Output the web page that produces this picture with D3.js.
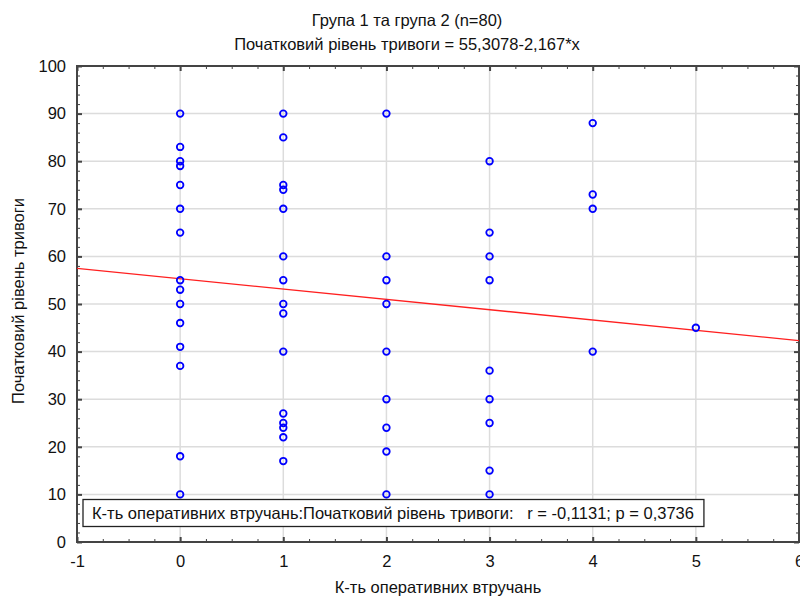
<!DOCTYPE html>
<html>
<head>
<meta charset="utf-8">
<script src="https://cdn.jsdelivr.net/npm/d3@7"></script>
<style>
  body { margin: 0; background: #fff; }
  svg { display: block; font-family: "Liberation Sans", Arial, sans-serif; }
  .tick text { font-size: 16.5px; fill: #111; }
</style>
</head>
<body>
<svg id="chart" width="800" height="599"></svg>
<script>
'use strict';

// К-ть оперативних втручань (x) and Початковий рівень тривоги (y)
var hits = [
  0, 0, 0, 0, 0, 0, 0, 0, 0, 0, 0, 0, 0, 0, 0,
  1, 1, 1, 1, 1, 1, 1, 1, 1, 1, 1, 1, 1, 1, 1,
  2, 2, 2, 2, 2, 2, 2, 2, 2,
  3, 3, 3, 3, 3, 3, 3, 3, 3,
  4, 4, 4, 4,
  5
];
var anxiety = [
  90, 83, 80, 79, 75, 70, 65, 55, 53, 50, 46, 41, 37, 18, 10,
  90, 85, 75, 74, 70, 60, 55, 50, 48, 40, 27, 25, 24, 22, 17,
  90, 60, 55, 50, 40, 30, 24, 19, 10,
  80, 65, 60, 55, 36, 30, 25, 15, 10,
  88, 73, 70, 40,
  45
];

// regression from the title
var intercept = 55.3078;
var slope = -2.167;

var xTicks = [-1, 0, 1, 2, 3, 4, 5, 6];
var yTicks = [0, 10, 20, 30, 40, 50, 60, 70, 80, 90, 100];

var titleLines = ['Група 1 та група 2 (n=80)', 'Початковий рівень тривоги = 55,3078-2,167*x'];
var xLabel = 'К-ть оперативних втручань';
var yLabel = 'Початковий рівень тривоги';
var statsText = 'К-ть оперативних втручань:Початковий рівень тривоги:   r = -0,1131; p = 0,3736';

var svg = d3.select('#chart');
var margin = { left: 77, right: 1, top: 66, bottom: 57 };
var width = 800 - margin.left - margin.right;
var height = 599 - margin.top - margin.bottom;

var x = d3.scaleLinear().domain([-1, 6]).range([margin.left, margin.left + width]);
var y = d3.scaleLinear().domain([0, 100]).range([margin.top + height, margin.top]);

var axisColor = '#444';
var gridColor = '#dcdcdc';
var fontSize = 16.5;
var plain = function (d) { return String(d); };

// grid
var grid = svg.append('g').attr('class', 'grid');
grid.selectAll('line.v')
  .data(xTicks.slice(1, -1))
  .enter().append('line')
  .attr('class', 'v')
  .attr('x1', function (d) { return x(d); })
  .attr('x2', function (d) { return x(d); })
  .attr('y1', y(0)).attr('y2', y(100))
  .attr('stroke', gridColor).attr('stroke-width', 1.5);
grid.selectAll('line.h')
  .data(yTicks.slice(1, -1))
  .enter().append('line')
  .attr('class', 'h')
  .attr('y1', function (d) { return y(d); })
  .attr('y2', function (d) { return y(d); })
  .attr('x1', x(-1)).attr('x2', x(6))
  .attr('stroke', gridColor).attr('stroke-width', 1.5);

// minor ticks, inside the frame on all four sides
var xMinor = d3.range(-1, 6.001, 0.25).filter(function (d) { return d % 1 !== 0; });
var yMinor = d3.range(0, 100.001, 2).filter(function (d) { return d % 10 !== 0; });

function styleAxis(g) {
  g.select('.domain').remove();
  g.selectAll('.tick line').attr('stroke', axisColor).attr('stroke-width', 1);
}

svg.append('g')
  .attr('transform', 'translate(0,' + y(0) + ')')
  .call(d3.axisBottom(x).tickValues(xMinor).tickSize(-3).tickFormat(''))
  .call(styleAxis);
svg.append('g')
  .attr('transform', 'translate(0,' + y(100) + ')')
  .call(d3.axisTop(x).tickValues(xMinor).tickSize(-3).tickFormat(''))
  .call(styleAxis);
svg.append('g')
  .attr('transform', 'translate(' + x(-1) + ',0)')
  .call(d3.axisLeft(y).tickValues(yMinor).tickSize(-3).tickFormat(''))
  .call(styleAxis);
svg.append('g')
  .attr('transform', 'translate(' + x(6) + ',0)')
  .call(d3.axisRight(y).tickValues(yMinor).tickSize(-3).tickFormat(''))
  .call(styleAxis);

// major ticks + labels
var xAxis = svg.append('g')
  .attr('transform', 'translate(0,' + y(0) + ')')
  .call(d3.axisBottom(x).tickValues(xTicks).tickSize(-5).tickPadding(13).tickFormat(plain))
  .call(styleAxis);
xAxis.selectAll('.tick line').attr('stroke-width', 2);

var yAxis = svg.append('g')
  .attr('transform', 'translate(' + x(-1) + ',0)')
  .call(d3.axisLeft(y).tickValues(yTicks).tickSize(-5).tickPadding(11).tickFormat(plain))
  .call(styleAxis);
yAxis.selectAll('.tick line').attr('stroke-width', 2);

svg.append('g')
  .attr('transform', 'translate(0,' + y(100) + ')')
  .call(d3.axisTop(x).tickValues(xTicks).tickSize(-5).tickFormat(''))
  .call(styleAxis)
  .selectAll('.tick line').attr('stroke-width', 2);
svg.append('g')
  .attr('transform', 'translate(' + x(6) + ',0)')
  .call(d3.axisRight(y).tickValues(yTicks).tickSize(-5).tickFormat(''))
  .call(styleAxis)
  .selectAll('.tick line').attr('stroke-width', 2);

// frame
svg.append('rect')
  .attr('x', x(-1)).attr('y', y(100))
  .attr('width', x(6) - x(-1)).attr('height', y(0) - y(100))
  .attr('fill', 'none').attr('stroke', axisColor).attr('stroke-width', 2);

// regression line
svg.append('line')
  .attr('x1', x(-1)).attr('y1', y(intercept + slope * -1))
  .attr('x2', x(6)).attr('y2', y(intercept + slope * 6))
  .attr('stroke', '#ff2020').attr('stroke-width', 1.3);

// points
svg.append('g').selectAll('circle')
  .data(hits.map(function (h, i) { return [h, anxiety[i]]; }))
  .enter().append('circle')
  .attr('cx', function (d) { return x(d[0]); })
  .attr('cy', function (d) { return y(d[1]); })
  .attr('r', 3.3)
  .attr('fill', 'none')
  .attr('stroke', '#0000ff')
  .attr('stroke-width', 1.8);

// stats box
var statsG = svg.append('g');
var statsLabel = statsG.append('text')
  .attr('x', 92).attr('y', 519)
  .attr('font-size', fontSize).attr('fill', '#111')
  .style('white-space', 'pre')
  .text(statsText);
var bb = statsLabel.node().getBBox();
statsG.insert('rect', 'text')
  .attr('x', 83).attr('y', 499.5)
  .attr('width', bb.width + 19).attr('height', 27)
  .attr('fill', '#fff').attr('stroke', '#222').attr('stroke-width', 1.3);

// titles
svg.selectAll('text.title')
  .data(titleLines)
  .enter().append('text')
  .attr('class', 'title')
  .attr('x', 407)
  .attr('y', function (d, i) { return 26 + i * 24; })
  .attr('text-anchor', 'middle')
  .attr('font-size', fontSize).attr('fill', '#111')
  .text(function (d) { return d; });

svg.append('text')
  .attr('x', x(2.5)).attr('y', 593)
  .attr('text-anchor', 'middle')
  .attr('font-size', fontSize).attr('fill', '#111')
  .text(xLabel);

svg.append('text')
  .attr('transform', 'translate(24,' + 301 + ') rotate(-90)')
  .attr('text-anchor', 'middle')
  .attr('font-size', fontSize).attr('fill', '#111')
  .text(yLabel);
</script>
</body>
</html>
